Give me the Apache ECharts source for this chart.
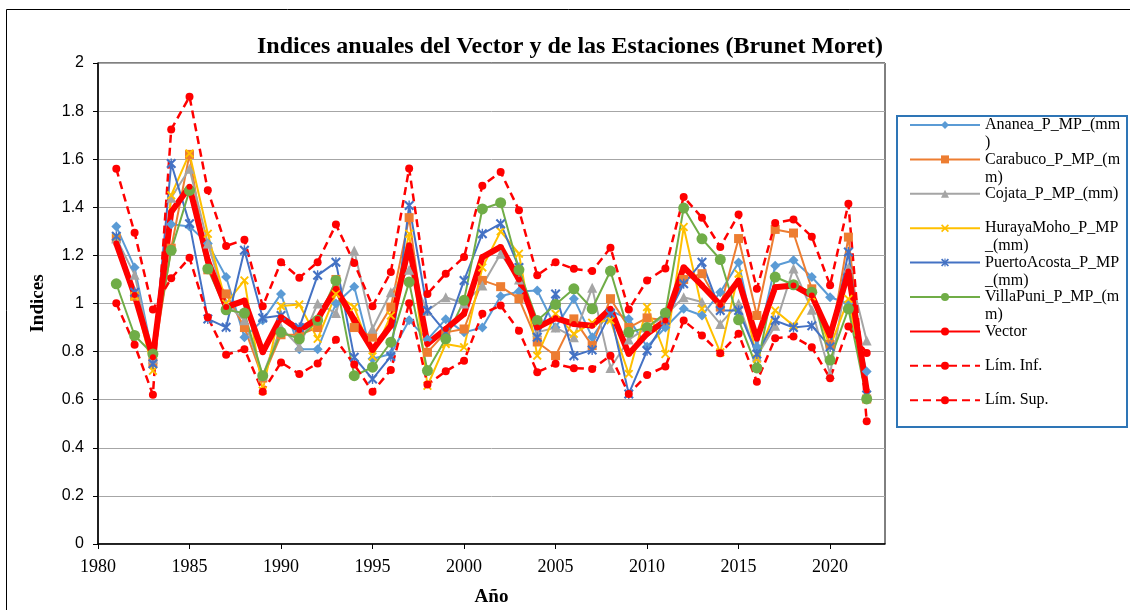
<!DOCTYPE html>
<html>
<head>
<meta charset="utf-8">
<script src="https://cdn.jsdelivr.net/npm/echarts@6/dist/echarts.min.js"></script>
<style>
html, body { margin: 0; padding: 0; background: #fff; }
#chart { width: 1130px; height: 610px; }
</style>
</head>
<body>
<div id="chart"></div>
<script>
var years = [1981, 1982, 1983, 1984, 1985, 1986, 1987, 1988, 1989, 1990,
	1991, 1992, 1993, 1994, 1995, 1996, 1997, 1998, 1999, 2000,
	2001, 2002, 2003, 2004, 2005, 2006, 2007, 2008, 2009, 2010,
	2011, 2012, 2013, 2014, 2015, 2016, 2017, 2018, 2019, 2020,
	2021, 2022];

var ananea = [1.32, 1.15, 0.78, 1.33, 1.32, 1.25, 1.11, 0.86, 0.93, 1.04,
	0.81, 0.81, 1.00, 1.07, 0.77, 0.79, 0.93, 0.85, 0.935, 0.88,
	0.90, 1.03, 1.05, 1.054, 0.90, 1.02, 0.86, 0.97, 0.936, 0.82,
	0.90, 0.978, 0.95, 1.047, 1.17, 0.82, 1.157, 1.18, 1.11, 1.026,
	1.00, 0.717];
var carabuco = [1.27, 1.03, 0.755, 1.23, 1.62, 1.14, 1.04, 0.90, 0.69, 0.87,
	0.87, 0.90, 1.10, 0.90, 0.86, 0.985, 1.357, 0.797, 0.88, 0.894,
	1.096, 1.07, 1.02, 0.84, 0.783, 0.936, 0.825, 1.02, 0.90, 0.94,
	0.93, 1.10, 1.124, 0.985, 1.27, 0.95, 1.308, 1.293, 1.061, 0.83,
	1.276, 0.603];
var cojata = [1.27, 1.12, 0.77, 1.44, 1.56, 1.25, 1.00, 0.93, 0.70, 0.90,
	0.82, 1.00, 0.96, 1.22, 0.895, 1.047, 1.14, 0.97, 1.026, 1.00,
	1.075, 1.207, 1.10, 0.88, 0.90, 0.86, 1.065, 0.732, 0.85, 0.90,
	0.95, 1.026, 1.006, 0.915, 1.00, 0.78, 0.908, 1.146, 0.974, 0.707,
	1.15, 0.846];
var hurayaMoho = [1.276, 1.03, 0.72, 1.45, 1.624, 1.29, 1.00, 1.096, 0.638, 0.99,
	0.996, 0.853, 1.04, 0.985, 0.78, 0.95, 1.29, 0.658, 0.832, 0.818,
	1.15, 1.30, 1.207, 0.783, 0.957, 0.874, 0.92, 0.93, 0.707, 0.985,
	0.79, 1.318, 0.978, 0.797, 1.124, 0.77, 0.971, 0.908, 1.03, 0.82,
	1.019, 0.62];
var puertoAcosta = [1.28, 1.047, 0.75, 1.582, 1.332, 0.936, 0.901, 1.221, 0.94, 0.95,
	0.90, 1.117, 1.172, 0.776, 0.686, 0.78, 1.408, 0.971, 0.88, 1.096,
	1.29, 1.332, 1.15, 0.86, 1.04, 0.783, 0.807, 0.96, 0.624, 0.804,
	0.93, 1.082, 1.172, 0.971, 0.971, 0.79, 0.929, 0.90, 0.908, 0.82,
	1.214, 0.62];
var villaPuni = [1.082, 0.867, 0.79, 1.221, 1.47, 1.144, 0.974, 0.96, 0.70, 0.88,
	0.853, 0.93, 1.096, 0.70, 0.735, 0.839, 1.089, 0.721, 0.853, 1.013,
	1.393, 1.419, 1.14, 0.929, 0.996, 1.061, 0.978, 1.135, 0.88, 0.90,
	0.96, 1.397, 1.269, 1.183, 0.932, 0.732, 1.11, 1.078, 1.047, 0.765,
	0.978, 0.603];
var vector = [1.25, 1.035, 0.776, 1.38, 1.485, 1.178, 0.985, 1.012, 0.797, 0.943,
	0.89, 0.936, 1.061, 0.932, 0.807, 0.908, 1.242, 0.832, 0.894, 0.957,
	1.193, 1.235, 1.10, 0.90, 0.939, 0.915, 0.908, 0.978, 0.79, 0.874,
	0.929, 1.151, 1.075, 0.995, 1.096, 0.853, 1.068, 1.075, 1.033, 0.867,
	1.133, 0.638];
var limInf = [1.56, 1.294, 0.975, 1.105, 1.19, 0.943, 0.787, 0.81, 0.633, 0.755,
	0.707, 0.751, 0.849, 0.746, 0.633, 0.724, 1.001, 0.663, 0.718, 0.762,
	0.957, 0.992, 0.887, 0.714, 0.749, 0.731, 0.728, 0.783, 0.624, 0.703,
	0.738, 0.929, 0.867, 0.793, 0.874, 0.675, 0.856, 0.863, 0.818, 0.689,
	0.904, 0.794];
var limSup = [1.001, 0.828, 0.621, 1.724, 1.86, 1.471, 1.239, 1.265, 0.989, 1.172,
	1.107, 1.172, 1.328, 1.168, 0.989, 1.131, 1.561, 1.04, 1.124, 1.193,
	1.49, 1.547, 1.388, 1.117, 1.172, 1.144, 1.135, 1.232, 0.975, 1.096,
	1.146, 1.443, 1.357, 1.235, 1.37, 1.061, 1.335, 1.349, 1.278, 1.076,
	1.415, 0.51];

var xTicks = [1980, 1985, 1990, 1995, 2000, 2005, 2010, 2015, 2020];

// texto de la leyenda partido como en Excel; linea vacia arriba para que
// la primera linea quede a la altura del icono
var legendText = {
	'Ananea_P_MP_(mm)': ' \nAnanea_P_MP_(mm\n)',
	'Carabuco_P_MP_(mm)': ' \nCarabuco_P_MP_(m\nm)',
	'Cojata_P_MP_(mm)': ' \nCojata_P_MP_(mm)\n ',
	'HurayaMoho_P_MP_(mm)': ' \nHurayaMoho_P_MP\n_(mm)',
	'PuertoAcosta_P_MP_(mm)': ' \nPuertoAcosta_P_MP\n_(mm)',
	'VillaPuni_P_MP_(mm)': ' \nVillaPuni_P_MP_(m\nm)',
	'Vector': ' \nVector\n ',
	'Lím. Inf.': ' \nLím. Inf.\n ',
	'Lím. Sup.': ' \nLím. Sup.\n '
};

var xMark = 'path://M0,1.5L1.5,0L10,8.5L8.5,10Z M8.5,0L10,1.5L1.5,10L0,8.5Z';
var asterisk = 'path://M0,1.5L1.5,0L10,8.5L8.5,10Z M8.5,0L10,1.5L1.5,10L0,8.5Z M4.3,0L5.7,0L5.7,10L4.3,10Z';

function pairs(vals) {
	return years.map(function(y, i) { return [y, vals[i]]; });
}

function station(name, vals, color, symbol, size) {
	return {
		name: name,
		type: 'line',
		data: pairs(vals),
		color: color,
		symbol: symbol,
		symbolSize: size,
		lineStyle: { width: 2, color: color },
		itemStyle: { color: color },
		emphasis: { disabled: true }
	};
}

function limit(name, vals) {
	return {
		name: name,
		type: 'line',
		data: pairs(vals),
		color: '#FF0000',
		symbol: 'circle',
		symbolSize: 8,
		lineStyle: { width: 2.5, color: '#FF0000', type: [8, 5] },
		itemStyle: { color: '#FF0000' },
		emphasis: { disabled: true }
	};
}

var serif = '"Liberation Serif", "Times New Roman", serif';

var myChart = echarts.init(document.getElementById('chart'));

option = {
	animation: false,
	backgroundColor: '#fff',
	title: {
		text: 'Indices anuales del Vector y de las Estaciones (Brunet Moret)',
		left: 252,
		top: 30,
		textStyle: { fontFamily: serif, fontWeight: 'bold', fontSize: 24, color: '#000' }
	},
	graphic: [{
		type: 'rect',
		silent: true,
		shape: { x: 6.5, y: 9.5, width: 1200, height: 700 },
		style: { fill: 'none', stroke: '#000', lineWidth: 1 }
	}, {
		// marco de la leyenda
		type: 'rect',
		silent: true,
		shape: { x: 897, y: 116, width: 230, height: 311 },
		style: { fill: 'none', stroke: '#2E75B6', lineWidth: 2 }
	}],
	legend: {
		orient: 'vertical',
		left: 909,
		top: 98,
		padding: 0,
		itemWidth: 70,
		itemHeight: 10,
		itemGap: -19.6,
		selectedMode: false,
		formatter: function(name) { return legendText[name]; },
		textStyle: { fontFamily: serif, fontSize: 16, color: '#000', lineHeight: 18 }
	},
	grid: {
		left: 98,
		top: 63,
		right: 245,
		bottom: 66,
		show: true,
		borderColor: '#000',
		borderWidth: 1,
		containLabel: false,
		outerBoundsMode: 'none'
	},
	xAxis: {
		type: 'value',
		min: 1980,
		max: 2023,
		interval: 5,
		name: 'Año',
		nameLocation: 'middle',
		nameGap: 44,
		nameTextStyle: { fontFamily: serif, fontWeight: 'bold', fontSize: 19, color: '#000' },
		axisLine: { show: true, lineStyle: { color: '#000', width: 1.5 } },
		axisTick: { show: true, inside: false, length: 5, lineStyle: { color: '#000' }, customValues: xTicks },
		axisLabel: {
			fontFamily: serif,
			fontSize: 18,
			color: '#000',
			margin: 14,
			customValues: xTicks,
			formatter: function(v) { return String(v); }
		},
		splitLine: { show: false }
	},
	yAxis: {
		type: 'value',
		min: 0,
		max: 2,
		interval: 0.2,
		name: 'Indices',
		nameLocation: 'middle',
		nameRotate: 90,
		nameGap: 50,
		nameTextStyle: { fontFamily: serif, fontWeight: 'bold', fontSize: 19, color: '#000' },
		axisLine: { show: true, lineStyle: { color: '#000', width: 1.5 } },
		axisTick: { show: true, inside: false, length: 5, lineStyle: { color: '#000' } },
		axisLabel: {
			fontFamily: '"Liberation Sans", Arial, sans-serif',
			fontSize: 16,
			color: '#000',
			margin: 14,
			formatter: function(v) { return String(Math.round(v * 10) / 10); }
		},
		splitLine: { show: true, lineStyle: { color: '#A6A6A6', width: 1 } }
	},
	series: [
		station('Ananea_P_MP_(mm)', ananea, '#5B9BD5', 'diamond', 10),
		station('Carabuco_P_MP_(mm)', carabuco, '#ED7D31', 'rect', 9),
		station('Cojata_P_MP_(mm)', cojata, '#A5A5A5', 'triangle', 10),
		station('HurayaMoho_P_MP_(mm)', hurayaMoho, '#FFC000', xMark, 9),
		station('PuertoAcosta_P_MP_(mm)', puertoAcosta, '#4472C4', asterisk, 10),
		station('VillaPuni_P_MP_(mm)', villaPuni, '#70AD47', 'circle', 11),
		{
			name: 'Vector',
			type: 'line',
			data: pairs(vector),
			color: '#FF0000',
			symbol: 'circle',
			symbolSize: 6,
			lineStyle: { width: 6, color: '#FF0000' },
			itemStyle: { color: '#FF0000' },
			emphasis: { disabled: true }
		},
		limit('Lím. Inf.', limInf),
		limit('Lím. Sup.', limSup)
	]
};

myChart.setOption(option);
</script>
</body>
</html>
